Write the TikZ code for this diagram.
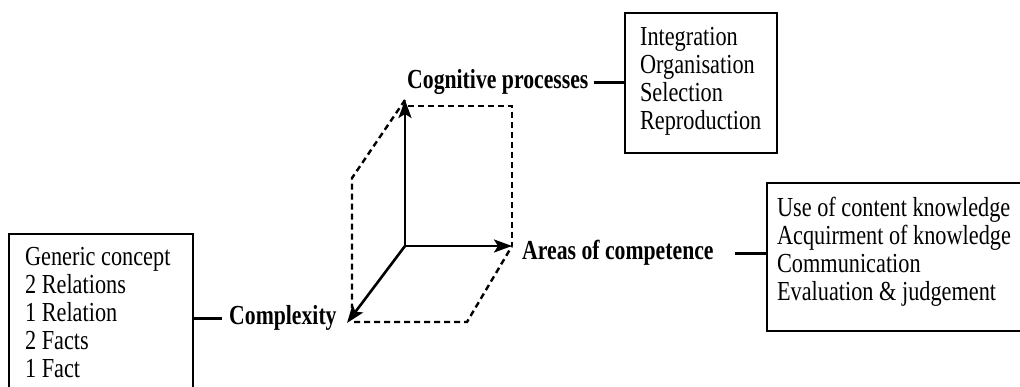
\documentclass[tikz,border=0pt]{standalone}
\usepackage{fontspec}
\setmainfont{Liberation Serif}[FakeStretch=0.81, BoldFeatures={FakeStretch=0.79}]
\usetikzlibrary{arrows.meta}
\tikzset{
  txt/.style={font=\fontsize{27.5}{28}\selectfont},
  listbox/.style={txt, draw, line width=2.2pt, anchor=north west, inner ysep=0pt, align=left},
  label/.style={txt, font=\fontsize{27.5}{28}\selectfont\bfseries, inner sep=0pt, text height=17pt, text depth=5pt},
  axis/.style={line width=2.6pt, -{Stealth[length=18pt,width=13pt,inset=4pt]}},
  dash box/.style={line width=2.4pt, dash pattern=on 6pt off 4pt},
  conn/.style={line width=3pt}
}
\begin{document}
\begin{tikzpicture}[x=1pt,y=-1pt]
\clip (0,0) rectangle (1020,387);
\fill[white] (0,0) rectangle (1020,387);
% list boxes
\node[listbox, inner xsep=16pt, inner ysep=12pt] (lbox) at (8,233)
  {\begin{tabular}{@{}p{152pt}@{}}Generic concept\\2 Relations\\1 Relation\\2 Facts\\1 Fact\\[6pt]\end{tabular}};
\node[listbox, inner xsep=15pt, inner ysep=13pt] (tbox) at (624,12)
  {\begin{tabular}{@{}p{122pt}@{}}Integration\\Organisation\\Selection\\Reproduction\\[2pt]\end{tabular}};
\node[listbox, inner xsep=10pt, inner ysep=14pt] (rbox) at (766,182)
  {\begin{tabular}{@{}p{260pt}@{}}Use of content knowledge\\Acquirment of knowledge\\Communication\\Evaluation \& judgement\\[8pt]\end{tabular}};
% labels
\node[label, anchor=west] (cog) at (407,83) {Cognitive processes};
\node[label, anchor=west] (area) at (522,254) {Areas of competence};
\node[label, anchor=west] (cplx) at (229,319) {Complexity};
% connectors
\draw[conn, shorten <=5pt] (cog.east) -- (cog.east -| tbox.west);
\draw[conn, shorten <=21pt] (area.east) -- (area.east -| rbox.west);
\draw[conn, shorten <=7pt] (cplx.west) -- (cplx.west -| lbox.east);
% axes
\coordinate (O) at (405,246);
\coordinate (Zt) at (405,100);
\coordinate (Xt) at (512,246);
\coordinate (Yt) at (347,323);
\coordinate (Lt) at (352,178);
\coordinate (Lb) at (352,308);
\coordinate (Bl) at (354,322);
\coordinate (Br) at (467,322);
\coordinate (Tl) at (408,106);
\coordinate (Tr) at (512,106);
\draw[dash box] (Zt) -- (Lt) -- (Lb);
\draw[dash box] (Bl) -- (Br) -- (Xt);
\draw[dash box] (Tl) -- (Tr) -- (Xt);
\draw[axis] (O) -- (Zt);
\draw[axis] (O) -- (Xt);
\draw[axis] (O) -- (Yt);
\end{tikzpicture}
\end{document}
